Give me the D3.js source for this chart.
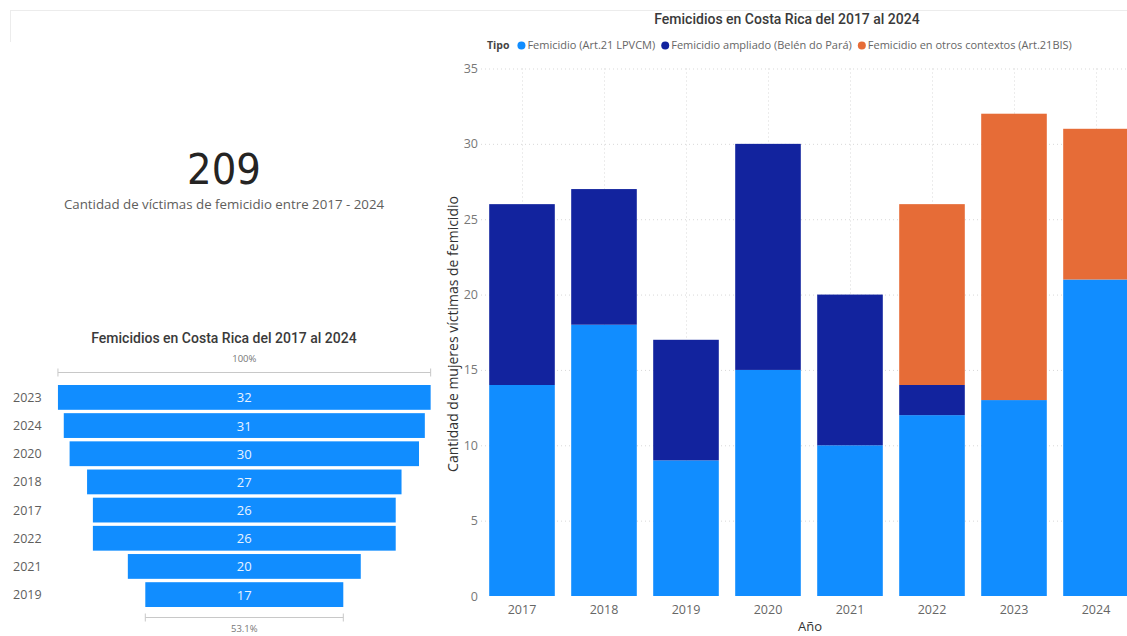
<!DOCTYPE html>
<html>
<head>
<meta charset="utf-8">
<script src="https://cdn.jsdelivr.net/npm/d3@7"></script>
<style>
  body { margin: 0; background: #fff; }
  svg { display: block; font-family: "Open Sans", "Noto Sans", sans-serif; }
  .grid line { stroke: #d9d9d9; stroke-dasharray: 1 3; }
  .axis path, .axis line { display: none; }
</style>
</head>
<body>
<div id="chart-area"></div>
<script>
// Datos
var anios = ["2017", "2018", "2019", "2020", "2021", "2022", "2023", "2024"];
var femicidioArt21 = [14, 18, 9, 15, 10, 12, 13, 21];
var femicidioAmpliado = [12, 9, 8, 15, 10, 2, 0, 0];
var femicidioOtros = [0, 0, 0, 0, 0, 12, 19, 10];
var tipos = ["Femicidio (Art.21 LPVCM)", "Femicidio ampliado (Belén do Pará)", "Femicidio en otros contextos (Art.21BIS)"];
var colores = ["#118DFF", "#12239E", "#E66C37"];
var yTicks = [0, 5, 10, 15, 20, 25, 30, 35];
var totalVictimas = 209;

var W = 1127, H = 636;

var svg = d3.select("#chart-area")
    .append("svg")
        .attr("width", W)
        .attr("height", H);

// Marco superior (contenedor del reporte)
svg.append("line").attr("x1", 10).attr("x2", W).attr("y1", 10.5).attr("y2", 10.5)
    .attr("stroke", "#ececec");
svg.append("line").attr("x1", 10.5).attr("x2", 10.5).attr("y1", 10).attr("y2", 42)
    .attr("stroke", "#ececec");

// ---------------- Tarjeta KPI ----------------
svg.append("text")
    .attr("x", 224).attr("y", 184)
    .attr("text-anchor", "middle")
    .attr("font-family", "'DejaVu Sans Condensed', 'Roboto', sans-serif")
    .attr("font-size", "43px")
    .attr("fill", "#252423")
    .text(d3.format(",")(totalVictimas));

svg.append("text")
    .attr("x", 224).attr("y", 209)
    .attr("text-anchor", "middle")
    .attr("font-size", "13.3px")
    .attr("fill", "#605E5C")
    .text("Cantidad de víctimas de femicidio entre 2017 - 2024");

// ---------------- Grafico apilado ----------------
var plot = { left: 481, right: 1137, top: 68.5, bottom: 596 };

var datos = anios.map(function(a, i) {
    return { anio: a, art21: femicidioArt21[i], ampliado: femicidioAmpliado[i], otros: femicidioOtros[i] };
});
var claves = ["art21", "ampliado", "otros"];
var series = d3.stack().keys(claves)(datos);

var x = d3.scaleBand()
    .domain(anios)
    .range([plot.left, plot.right])
    .paddingInner(0.2)
    .paddingOuter(0.1);

var y = d3.scaleLinear()
    .domain([0, 35])
    .range([plot.bottom, plot.top]);

// Gridlines
var grid = svg.append("g").attr("class", "grid");
grid.selectAll(".h").data(yTicks.slice(1)).enter().append("line")
    .attr("x1", plot.left).attr("x2", plot.right)
    .attr("y1", d => y(d) + 0.5).attr("y2", d => y(d) + 0.5);
grid.selectAll(".v").data(anios).enter().append("line")
    .attr("x1", d => Math.round(x(d) + x.bandwidth() / 2) + 0.5)
    .attr("x2", d => Math.round(x(d) + x.bandwidth() / 2) + 0.5)
    .attr("y1", plot.top).attr("y2", plot.bottom);

// Barras
svg.append("g").selectAll("g")
    .data(series)
    .enter().append("g")
        .attr("fill", (d, i) => colores[i])
    .selectAll("rect")
    .data(d => d)
    .enter().append("rect")
        .attr("x", d => x(d.data.anio))
        .attr("y", d => y(d[1]))
        .attr("width", x.bandwidth())
        .attr("height", d => y(d[0]) - y(d[1]));

// Ejes
var yAxis = svg.append("g")
    .attr("class", "axis")
    .attr("transform", "translate(" + (plot.left) + ",0)")
    .call(d3.axisLeft(y).tickValues(yTicks).tickSize(0).tickPadding(3));
yAxis.selectAll("text")
    .attr("font-size", "12.5px")
    .attr("font-family", "'Open Sans', sans-serif")
    .attr("fill", "#777");

var xAxis = svg.append("g")
    .attr("class", "axis")
    .attr("transform", "translate(0," + plot.bottom + ")")
    .call(d3.axisBottom(x).tickSize(0).tickPadding(9));
xAxis.selectAll("text")
    .attr("font-size", "12.5px")
    .attr("font-family", "'Open Sans', sans-serif")
    .attr("fill", "#666");

// Etiquetas de ejes
svg.append("text")
    .attr("x", (plot.left + plot.right) / 2 + 1)
    .attr("y", 631)
    .attr("text-anchor", "middle")
    .attr("font-size", "13px")
    .attr("fill", "#333")
    .text("Año");

svg.append("text")
    .attr("transform", "translate(458," + 334 + ") rotate(-90)")
    .attr("text-anchor", "middle")
    .attr("font-size", "14px")
    .attr("fill", "#333")
    .text("Cantidad de mujeres víctimas de femicidio");

// Titulo
svg.append("text")
    .attr("x", 787).attr("y", 24)
    .attr("text-anchor", "middle")
    .attr("font-family", "'Roboto', sans-serif")
    .attr("font-weight", 500)
    .attr("font-size", "14px")
    .attr("fill", "#3a3a3a")
    .text("Femicidios en Costa Rica del 2017 al 2024");

// Leyenda
var leyenda = svg.append("g").attr("transform", "translate(487,49)");
var lx = 0;
var tipoTxt = leyenda.append("text")
    .attr("x", lx).attr("y", 0)
    .attr("font-size", "10.5px")
    .attr("font-weight", 700)
    .attr("fill", "#444")
    .text("Tipo");
lx += tipoTxt.node().getComputedTextLength() + 8;
tipos.forEach(function(t, i) {
    leyenda.append("circle")
        .attr("cx", lx + 4).attr("cy", -3.5).attr("r", 4)
        .attr("fill", colores[i]);
    var tt = leyenda.append("text")
        .attr("x", lx + 10).attr("y", 0)
        .attr("font-size", "11px")
        .attr("fill", "#666")
        .text(t);
    lx += 10 + tt.node().getComputedTextLength() + 6;
});

// ---------------- Embudo ----------------
var totales = anios.map((a, i) => ({ anio: a, total: femicidioArt21[i] + femicidioAmpliado[i] + femicidioOtros[i] }));
var ordenados = totales.slice().sort((a, b) => b.total - a.total);
var maxTotal = ordenados[0].total;
var minTotal = ordenados[ordenados.length - 1].total;

var fCentro = 244.3;
var fw = d3.scaleLinear().domain([0, maxTotal]).range([0, 372.7]);
var fy = d3.scaleBand()
    .domain(ordenados.map(d => d.anio))
    .range([385, 607])
    .paddingInner(0.12)
    .paddingOuter(0);

svg.append("text")
    .attr("x", 224).attr("y", 343)
    .attr("text-anchor", "middle")
    .attr("font-family", "'Roboto', sans-serif")
    .attr("font-weight", 500)
    .attr("font-size", "14px")
    .attr("fill", "#3a3a3a")
    .text("Femicidios en Costa Rica del 2017 al 2024");

function regla(ancho, yl) {
    var g = svg.append("g").attr("stroke", "#c8c8c8");
    g.append("line").attr("x1", fCentro - ancho / 2).attr("x2", fCentro + ancho / 2)
        .attr("y1", yl).attr("y2", yl);
    g.append("line").attr("x1", fCentro - ancho / 2).attr("x2", fCentro - ancho / 2)
        .attr("y1", yl - 4).attr("y2", yl + 4);
    g.append("line").attr("x1", fCentro + ancho / 2).attr("x2", fCentro + ancho / 2)
        .attr("y1", yl - 4).attr("y2", yl + 4);
}
regla(fw(maxTotal), 372.5);
regla(fw(minTotal), 617.5);

svg.append("text")
    .attr("x", fCentro).attr("y", 362)
    .attr("text-anchor", "middle")
    .attr("font-size", "9.5px")
    .attr("fill", "#777")
    .text("100%");
svg.append("text")
    .attr("x", fCentro).attr("y", 632)
    .attr("text-anchor", "middle")
    .attr("font-size", "9.5px")
    .attr("fill", "#777")
    .text(d3.format(".1%")(minTotal / maxTotal));

var filas = svg.append("g").selectAll("g")
    .data(ordenados)
    .enter().append("g");

filas.append("rect")
    .attr("x", d => fCentro - fw(d.total) / 2)
    .attr("y", d => fy(d.anio))
    .attr("width", d => fw(d.total))
    .attr("height", fy.bandwidth())
    .attr("fill", "#118DFF");

filas.append("text")
    .attr("x", fCentro)
    .attr("y", d => fy(d.anio) + fy.bandwidth() / 2 + 5)
    .attr("text-anchor", "middle")
    .attr("font-size", "13px")
    .attr("fill", "#e8f3ff")
    .text(d => d.total);

filas.append("text")
    .attr("x", 13)
    .attr("y", d => fy(d.anio) + fy.bandwidth() / 2 + 4.5)
    .attr("font-size", "12.5px")
    .attr("fill", "#605E5C")
    .text(d => d.anio);
</script>
</body>
</html>
